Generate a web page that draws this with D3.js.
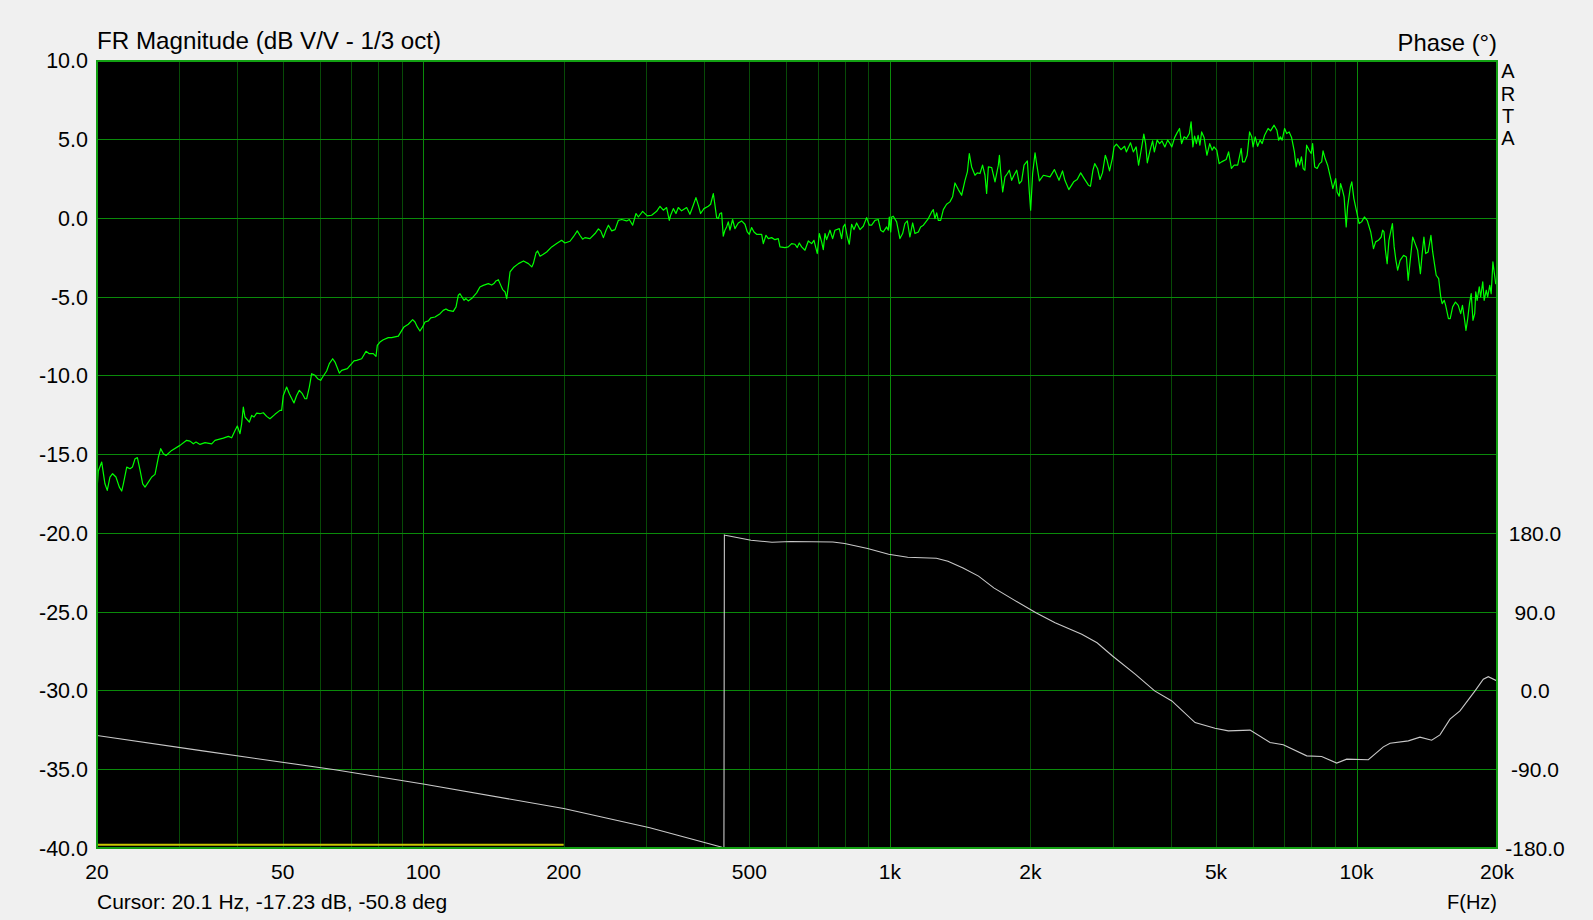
<!DOCTYPE html>
<html><head><meta charset="utf-8">
<script src="https://cdn.jsdelivr.net/npm/d3@7/dist/d3.min.js"></script>
<style>
html,body{margin:0;padding:0;background:#f0f0f0;overflow:hidden;}
svg{display:block;}
text{font-family:"Liberation Sans",Arial,sans-serif;fill:#000;}
</style></head><body>
<svg id="chart" width="1593" height="920"></svg>
<script>
// ---- data (frequency in Hz, level in dB V/V) ----
const magnitude = [
[20.0,-17.2],[20.13,-16.05],[20.47,-15.48],[20.8,-16.86],[21.04,-17.28],[21.32,-16.43],[21.6,-16.22],[21.96,-16.43],[22.33,-17.07],[22.59,-17.32],[22.78,-16.86],[23.16,-15.8],[23.54,-15.9],[23.82,-15.8],[24.13,-15.27],[24.41,-15.2],[24.74,-16.01],[25.06,-16.86],[25.35,-17.07],[25.77,-16.75],[26.2,-16.43],[26.63,-16.26],[27.08,-15.16],[27.39,-14.63],[27.75,-14.95],[28.12,-15.06],[28.91,-14.74],[30.12,-14.42],[31.13,-14.1],[31.65,-14.15],[32.17,-14.32],[32.6,-14.21],[33.25,-14.36],[34.08,-14.25],[35.22,-14.32],[35.8,-14.1],[37.3,-13.96],[38.24,-13.85],[38.87,-13.94],[39.52,-13.47],[39.97,-13.19],[40.5,-13.68],[40.83,-13.05],[41.17,-11.99],[41.51,-12.62],[42.41,-12.94],[42.9,-12.52],[43.4,-12.62],[43.97,-12.37],[44.7,-12.41],[45.44,-12.35],[46.19,-12.58],[46.95,-12.73],[48.13,-12.45],[49.33,-12.2],[49.74,-12.2],[50.15,-11.25],[50.98,-10.72],[51.66,-11.14],[52.86,-11.73],[53.56,-11.25],[54.27,-10.93],[55.08,-11.14],[55.81,-11.46],[56.27,-11.46],[57.02,-10.72],[57.68,-9.87],[58.63,-9.97],[59.41,-10.19],[60.3,-10.29],[60.9,-10.08],[62.11,-9.7],[62.93,-9.23],[63.98,-8.92],[64.72,-9.13],[66.12,-9.83],[66.88,-9.66],[68.78,-9.55],[70.27,-9.23],[71.08,-9.06],[72.02,-9.02],[73.82,-8.92],[75.41,-8.45],[76.66,-8.6],[78.18,-8.6],[79.22,-8.77],[79.74,-8.07],[80.8,-7.86],[82.14,-7.71],[84.19,-7.58],[85.58,-7.58],[88.45,-7.48],[90.95,-6.9],[92.92,-6.73],[94.93,-6.44],[96.03,-6.59],[97.14,-6.9],[98.42,-7.16],[99.73,-6.9],[100.9,-6.59],[102.6,-6.52],[103.8,-6.33],[106.0,-6.27],[108.7,-6.06],[110.4,-5.85],[111.9,-5.76],[113.2,-5.85],[116.0,-5.91],[117.6,-5.63],[118.9,-4.89],[119.9,-4.79],[122.3,-5.21],[123.5,-5.1],[124.9,-5.25],[127.0,-5.1],[130.2,-4.74],[132.3,-4.36],[134.5,-4.26],[137.9,-4.15],[140.2,-4.24],[141.8,-4.15],[143.2,-3.98],[144.9,-3.9],[146.1,-4.15],[148.0,-4.53],[149.8,-4.68],[151.0,-5.1],[152.3,-4.26],[153.5,-3.41],[156.1,-3.13],[160.0,-2.88],[164.0,-2.71],[168.1,-2.88],[170.9,-3.09],[172.2,-2.88],[174.5,-2.2],[175.9,-2.08],[178.0,-2.41],[180.9,-2.29],[183.9,-2.14],[188.5,-1.82],[193.2,-1.61],[198.0,-1.4],[201.3,-1.57],[206.3,-1.46],[209.7,-1.19],[213.9,-0.8],[216.7,-1.08],[219.6,-1.33],[222.1,-1.23],[227.7,-1.29],
[233.5,-0.97],[237.4,-0.68],[240.1,-0.8],[243.3,-1.23],[246.5,-0.76],[249.4,-0.44],[253.5,-0.8],[257.7,-0.72],[262.0,-0.13],[266.3,-0.08],[272.9,-0.17],[276.5,-0.08],[281.1,-0.44],[285.8,0.3],[289.1,0.08],[295.3,0.44],[302.2,0.15],[308.7,0.19],[316.4,0.44],[321.7,0.76],[327.0,0.51],[332.4,0.68],[336.8,-0.13],[339.0,0.19],[343.6,0.61],[348.1,0.3],[352.1,0.68],[357.9,0.47],[366.9,0.68],[372.9,0.25],[379.1,0.83],[384.1,1.31],[388.6,0.83],[393.1,0.3],[399.6,0.61],[408.3,0.76],[413.0,0.89],[418.5,1.57],[421.9,0.83],[425.4,0.04],[428.9,-0.02],[432.4,0.3],[436.0,0.34],[439.6,-1.14],[443.2,-0.76],[446.9,-0.55],[450.6,-0.23],[454.3,-0.76],[460.3,-0.08],[465.6,-0.66],[473.4,-0.3],[481.2,-0.17],[489.2,-0.38],[494.9,-0.87],[499.8,-1.02],[505.6,-0.59],[511.5,-0.87],[518.2,-1.02],[531.2,-1.02],[535.6,-1.61],[542.7,-1.08],[549.0,-1.29],[558.1,-1.23],[567.3,-1.36],[576.7,-1.29],[581.5,-1.82],[596.0,-1.86],[605.9,-1.82],[615.9,-1.61],[626.1,-1.65],[633.3,-1.86],[639.6,-1.57],[647.1,-1.82],[657.8,-2.03],[668.7,-1.44],[679.8,-1.61],[687.7,-1.4],[699.1,-2.24],[706.0,-0.97],[714.2,-1.5],[720.1,-1.99],[726.1,-0.97],[732.0,-1.36],[744.2,-0.76],[754.0,-1.29],[762.7,-0.76],[779.2,-0.66],[788.2,-1.29],[794.7,-0.55],[801.3,-0.38],[810.6,-1.19],[818.6,-1.65],[828.1,-0.38],[837.7,-0.72],[848.8,-0.3],[862.9,-0.72],[877.2,-0.51],[891.7,0.04],[903.6,-0.44],[914.1,-0.44],[929.2,-0.13],[944.6,-0.08],[955.6,-0.76],[968.2,-0.87],[984.3,-0.55],[992.4,-0.76],[997.3,0.08],[1004,-0.87],[1009,0.08],[1017,0.13],[1034,-0.23],[1051,-1.29],[1065,-0.97],[1077,-0.34],[1090,-0.17],[1104,-1.19],[1119,-0.3],[1132,-0.97],[1151,-0.87],[1164,-0.55],[1180,-0.44],[1209,-0.02],[1229,0.4],[1239,0.55],[1249,-0.02],[1260,0.34],[1270,-0.13],[1285,-0.13],[1302,0.55],[1323,0.89],[1345,1.04],[1363,1.36],[1379,2.24],[1402,1.82],[1425,1.46],[1449,2.41],[1466,2.94],[1480,4.11],[1497,3.26],[1522,2.73],[1539,2.88],[1560,2.84],[1580,3.37],[1599,2.73],[1612,1.57],[1626,3.26],[1653,3.22],[1680,2.31],[1708,3.37],[1717,4.0],[1728,2.94],[1745,1.67],[1765,2.63],[1786,2.84],[1803,3.05],[1824,2.41],[1845,2.73],[1870,3.05],[1894,2.2],[1916,2.37],[1939,3.37],[1971,3.64],[1990,1.67],[2003,0.51],[2023,2.84],[2047,4.15],[2063,3.47],[2091,2.37],[2133,2.73],[2204,2.63],
[2252,3.09],[2304,2.41],[2344,3.01],[2372,2.41],[2418,1.82],[2477,2.31],[2520,2.46],[2564,2.88],[2609,2.52],[2664,2.1],[2691,2.03],[2724,3.05],[2748,3.47],[2786,3.16],[2820,2.46],[2855,2.88],[2895,4.0],[2920,3.68],[2956,3.01],[2997,3.79],[3023,4.53],[3059,4.7],[3129,4.36],[3184,4.57],[3212,4.21],[3279,4.79],[3324,4.21],[3371,4.53],[3412,3.37],[3441,4.0],[3501,5.34],[3532,4.74],[3562,3.52],[3612,4.32],[3656,4.91],[3688,4.21],[3739,4.96],[3785,4.74],[3830,4.91],[3884,4.53],[3938,4.96],[3985,4.74],[4020,4.53],[4076,5.12],[4125,5.42],[4176,5.7],[4219,4.74],[4271,5.17],[4322,5.06],[4383,5.38],[4421,6.12],[4460,4.53],[4498,5.21],[4538,4.74],[4577,5.27],[4617,4.64],[4657,5.48],[4714,5.12],[4780,4.0],[4847,4.74],[4905,4.32],[4948,4.53],[5017,4.32],[5078,3.47],[5139,3.58],[5256,3.73],[5320,4.21],[5394,3.16],[5469,3.37],[5564,3.37],[5661,4.43],[5700,3.58],[5760,3.58],[5830,4.0],[5900,5.48],[5961,5.17],[6003,4.53],[6066,5.17],[6139,4.57],[6213,4.96],[6278,4.74],[6354,5.27],[6465,5.7],[6543,5.55],[6658,5.91],[6751,5.59],[6809,4.96],[6868,5.17],[6929,4.96],[7013,5.7],[7085,5.38],[7172,5.48],[7259,5.12],[7360,4.21],[7424,3.26],[7488,3.79],[7553,3.37],[7619,3.9],[7685,3.16],[7751,3.05],[7818,4.64],[7914,4.32],[7996,4.11],[8051,4.74],[8135,3.26],[8234,3.16],[8333,3.47],[8420,3.58],[8478,4.28],[8566,3.79],[8671,3.37],[8822,2.41],[8899,1.88],[9023,2.52],[9086,1.67],[9180,1.4],[9244,2.2],[9340,1.74],[9405,1.36],[9503,-0.55],[9569,0.72],[9635,1.36],[9702,1.99],[9769,2.31],[9871,1.25],[10008,0.4],[10130,-0.34],[10252,-0.23],[10395,0.08],[10540,-0.13],[10725,-0.87],[10874,-1.93],[10988,-1.5],[11141,-1.4],[11296,-1.19],[11374,-0.76],[11453,-0.87],[11532,-2.03],[11632,-2.88],[11733,-1.4],[11835,-0.87],[11937,-0.34],[12041,-1.82],[12146,-2.67],[12251,-3.3],[12398,-2.67],[12615,-2.35],[12791,-2.46],[12902,-3.94],[13058,-2.46],[13194,-1.19],[13355,-1.61],[13518,-2.03],[13706,-3.52],[13825,-2.24],[13945,-1.19],[14066,-2.24],[14238,-2.14],[14436,-1.08],[14562,-2.14],[14688,-2.88],[14816,-3.62],[14997,-3.83],[15153,-5.0],[15258,-5.42],[15417,-5.21],[15524,-5.53],[15740,-6.37],[15877,-6.37],[16069,-5.63],[16293,-5.32],[16520,-5.53],[16720,-6.06],[16865,-5.53],[17012,-6.27],[17160,-7.12],[17309,-6.37],[17459,-5.42],[17611,-4.79],[17763,-6.48],[17917,-6.06],[18010,-4.68],[18135,-5.21],[18324,-4.36],[18451,-5.0],[18643,-4.04],[18772,-5.21],[18968,-4.57],[19099,-5.0],[19298,-4.26],[19432,-4.79],[19600,-2.77],[19702,-3.3],[19871,-4.15],[20000,-3.94]
];
// phase in degrees (wrapped to +/-180)
const phase = [
[20,-51.1],[33.7,-68.7],[64.7,-90.3],[100,-106.6],[200,-134.5],[306,-156.5],[435,-178.6],[441,-180],[442,178],[444,177.7],[504,172],[559,169.7],[614,170.5],[755,170],[800,168.2],[896,162.5],[994,156],[1092,152.6],[1258,151.5],[1332,148],[1435,140.4],[1549,131],[1670,117.6],[1836,104.4],[2056,89.1],[2260,77.7],[2578,64.5],[2780,54.9],[3000,39.7],[3360,18.8],[3693,-0.2],[4020,-11.6],[4508,-36.4],[4974,-42.8],[5312,-45.8],[5914,-45],[6526,-59.2],[6966,-61.8],[7822,-74.4],[8420,-75.2],[9070,-82.7],[9528,-78.2],[10600,-78.9],[11416,-64.1],[11800,-59.9],[12914,-57.3],[13678,-53],[14488,-56.5],[15094,-50.4],[15860,-32.5],[16660,-23],[17944,-0.2],[18692,13.1],[19160,16.1],[20000,11.2]
];
// yellow marker line (frequency range, level)
const markerLine = [[20,-39.78],[200,-39.78]];

const xTickLabels = [[20,"20"],[50,"50"],[100,"100"],[200,"200"],[500,"500"],[1000,"1k"],[2000,"2k"],[5000,"5k"],[10000,"10k"],[20000,"20k"]];
const minorGridFreqs = [30,40,50,60,70,80,90,200,300,400,500,600,700,800,900,2000,3000,4000,5000,6000,7000,8000,9000];
const majorGridFreqs = [100,1000,10000];
const magTicks = [10,5,0,-5,-10,-15,-20,-25,-30,-35,-40];
const phaseTicks = [180,90,0,-90,-180];

const titleLeft = "FR Magnitude (dB V/V - 1/3 oct)";
const titleRight = "Phase (°)";
const cursorText = "Cursor: 20.1 Hz, -17.23 dB, -50.8 deg";
const xAxisTitle = "F(Hz)";
const brand = ["A","R","T","A"];

// ---- layout ----
const L = 97, R = 1497, T = 60.75, B = 848.25;
const svg = d3.select("#chart");

const x = d3.scaleLog().domain([20,20000]).range([L,R]);
const yMag = d3.scaleLinear().domain([-40,10]).range([B,T]);
const yPh = d3.scaleLinear().domain([-180,180]).range([yMag(-40), yMag(-20)]);

svg.append("rect").attr("width",1593).attr("height",920).attr("fill","#f0f0f0");
svg.append("rect").attr("x",L).attr("y",T).attr("width",R-L).attr("height",B-T).attr("fill","#000");

const grid = svg.append("g").attr("shape-rendering","crispEdges");
grid.selectAll("line.minor").data(minorGridFreqs).join("line")
  .attr("x1",d=>Math.round(x(d))+0.5).attr("x2",d=>Math.round(x(d))+0.5)
  .attr("y1",T).attr("y2",B).attr("stroke","#074a07").attr("stroke-width",1);
grid.selectAll("line.major").data(majorGridFreqs).join("line")
  .attr("x1",d=>Math.round(x(d))+0.5).attr("x2",d=>Math.round(x(d))+0.5)
  .attr("y1",T).attr("y2",B).attr("stroke","#0a8a0a").attr("stroke-width",1);
grid.selectAll("line.h").data(magTicks.filter(d=>d<10 && d>-40)).join("line")
  .attr("x1",L).attr("x2",R)
  .attr("y1",d=>Math.floor(yMag(d))+0.5).attr("y2",d=>Math.floor(yMag(d))+0.5)
  .attr("stroke","#0a8a0a").attr("stroke-width",1);

svg.append("defs").append("clipPath").attr("id","clip")
  .append("rect").attr("x",L).attr("y",T).attr("width",R-L).attr("height",B-T);

const plot = svg.append("g").attr("clip-path","url(#clip)");

plot.append("path").datum(markerLine)
  .attr("d", d3.line().x(d=>x(d[0])).y(d=>yMag(d[1])))
  .attr("stroke","#c8c800").attr("stroke-width",2).attr("fill","none");

plot.append("path").datum(phase)
  .attr("d", d3.line().x(d=>x(d[0])).y(d=>yPh(d[1])))
  .attr("stroke","#c8c8c8").attr("stroke-width",1.1).attr("fill","none");

plot.append("path").datum(magnitude)
  .attr("d", d3.line().x(d=>x(d[0])).y(d=>yMag(d[1])))
  .attr("stroke","#00ff00").attr("stroke-width",1.2).attr("fill","none")
  .attr("stroke-linejoin","round");

svg.append("rect").attr("x",L).attr("y",61).attr("width",R-L).attr("height",787)
  .attr("fill","none").attr("stroke","#12a012").attr("stroke-width",2);

// left ticks
svg.append("g").selectAll("text").data(magTicks).join("text")
  .attr("x",88).attr("y",d=>yMag(d)+7.5).attr("text-anchor","end")
  .attr("font-size",21.5).text(d=>d.toFixed(1));
// right ticks
svg.append("g").selectAll("text").data(phaseTicks).join("text")
  .attr("x",1535).attr("y",d=>yPh(d)+7.5).attr("text-anchor","middle")
  .attr("font-size",21).text(d=>d.toFixed(1));
// x ticks
svg.append("g").selectAll("text").data(xTickLabels).join("text")
  .attr("x",d=>x(d[0])).attr("y",879).attr("text-anchor","middle")
  .attr("font-size",21).text(d=>d[1]);

svg.append("text").attr("x",97).attr("y",48.5).attr("font-size",24.2).text(titleLeft);
svg.append("text").attr("x",1497).attr("y",50.5).attr("text-anchor","end").attr("font-size",23.8).text(titleRight);
svg.append("text").attr("x",97).attr("y",909).attr("font-size",21).text(cursorText);
svg.append("text").attr("x",1497).attr("y",909).attr("text-anchor","end").attr("font-size",20).text(xAxisTitle);
svg.append("g").selectAll("text").data(brand).join("text")
  .attr("x",1508).attr("y",(d,i)=>78.3+i*22.2).attr("text-anchor","middle")
  .attr("font-size",20).text(d=>d);
</script>
</body></html>
